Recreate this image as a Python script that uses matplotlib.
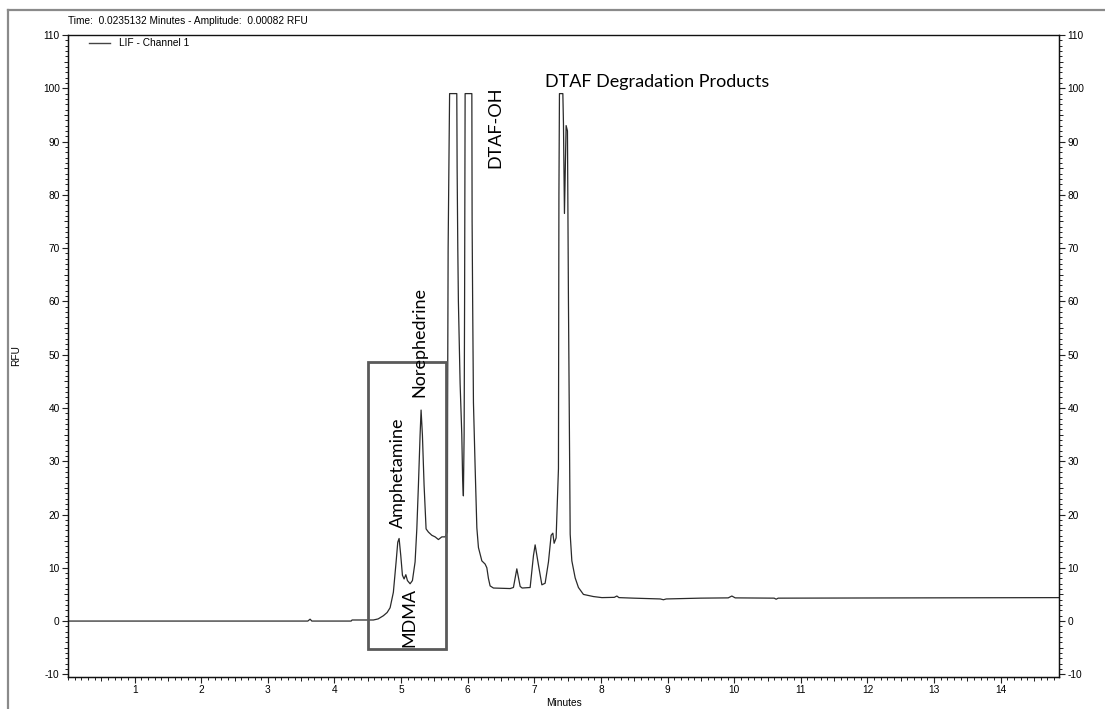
import matplotlib
matplotlib.use("Agg")
import matplotlib.pyplot as plt
from matplotlib.lines import Line2D
from matplotlib.patches import Rectangle
from matplotlib.ticker import MultipleLocator, FixedLocator, NullFormatter

plt.rcParams["axes.unicode_minus"] = False

# ---- trace data: LIF channel 1 (time in minutes, amplitude in RFU) ----
minutes = [0.00, 3.56, 3.60, 3.634, 3.66, 4.25, 4.264, 4.584, 4.655, 4.734,
           4.79, 4.835, 4.884, 4.925, 4.950, 4.970, 4.995, 5.020, 5.045, 5.071,
           5.095, 5.135, 5.170, 5.210, 5.236, 5.260, 5.285, 5.300, 5.320, 5.345,
           5.375, 5.410, 5.461, 5.511, 5.560, 5.611, 5.661, 5.695, 5.698, 5.706,
           5.721, 5.728, 5.836, 5.841, 5.851, 5.860, 5.886, 5.911, 5.923, 5.935,
           5.946, 5.953, 5.961, 6.062, 6.066, 6.074, 6.086, 6.111, 6.137, 6.161,
           6.212, 6.261, 6.287, 6.311, 6.336, 6.386, 6.637, 6.686, 6.737, 6.787,
           6.817, 6.937, 6.987, 7.012, 7.062, 7.113, 7.162, 7.212, 7.252, 7.278,
           7.297, 7.327, 7.362, 7.369, 7.377, 7.428, 7.437, 7.452, 7.477, 7.497,
           7.512, 7.538, 7.563, 7.613, 7.662, 7.737, 7.887, 8.014, 8.20, 8.239,
           8.27, 8.488, 8.89, 8.938, 8.98, 9.49, 9.91, 9.965, 10.015, 10.60,
           10.63, 10.66, 14.88]
rfu = [0.0, 0.0, 0.0, 0.35, 0.0, 0.0, 0.2, 0.2, 0.4, 1.0,
       1.6, 2.5, 5.4, 11.1, 14.8, 15.5, 12.3, 8.6, 7.9, 8.7,
       7.6, 7.0, 7.6, 11.1, 17.3, 25.5, 34.9, 39.6, 34.9, 25.5,
       17.3, 16.7, 16.1, 15.8, 15.3, 15.8, 15.8, 16.7, 40.0, 70.0,
       90.0, 99.0, 99.0, 85.0, 70.0, 60.0, 44.5, 35.0, 27.0, 23.5,
       35.0, 60.0, 99.0, 99.0, 75.0, 60.0, 41.0, 29.0, 17.5, 13.8,
       11.3, 10.7, 10.0, 8.0, 6.6, 6.2, 6.1, 6.3, 9.8, 6.5,
       6.2, 6.3, 12.3, 14.3, 10.5, 6.8, 7.1, 11.1, 16.1, 16.5,
       14.6, 15.6, 28.6, 80.0, 99.0, 99.0, 93.5, 76.5, 93.0, 92.0,
       60.0, 16.3, 11.3, 8.1, 6.3, 5.0, 4.6, 4.4, 4.45, 4.7,
       4.4, 4.3, 4.15, 4.0, 4.15, 4.3, 4.35, 4.7, 4.35, 4.3,
       4.1, 4.3, 4.4]

# ---- peak annotations ----
peak_names = ["Amphetamine", "Norephedrine", "MDMA", "DTAF-OH"]
peak_x = [4.947, 5.275, 5.12, 6.419]
peak_label_y = [17.4, 42.0, -4.9, 85.1]
degradation_label = "DTAF Degradation Products"

x_ticks = list(range(1, 15))
y_ticks = list(range(-10, 111, 10))

header_text = "Time:  0.0235132 Minutes - Amplitude:  0.00082 RFU"
legend_text = "LIF - Channel 1"

W, H = 1105, 709
fig = plt.figure(figsize=(W / 100, H / 100), dpi=100)
fig.patch.set_facecolor("white")

ax = fig.add_axes([68 / W, 32 / H, (1059.3 - 68) / W, (677 - 35) / H])
ax.plot(minutes, rfu, color="#2a2a2a", lw=0.9)
ax.set_xlim(0, 14.88)
ax.set_ylim(-10.5, 110)

small = 7.3
tick_font = dict(family="Liberation Sans", size=small)
ax.xaxis.set_major_locator(FixedLocator(x_ticks))
ax.xaxis.set_minor_locator(MultipleLocator(0.1))
ax.yaxis.set_major_locator(FixedLocator(y_ticks))
ax.yaxis.set_minor_locator(MultipleLocator(1))
ax.tick_params(axis="both", which="major", direction="out", length=4.5,
               width=0.8, color="#222222", labelsize=small, pad=1.5)
ax.tick_params(axis="both", which="minor", direction="out", length=2.2,
               width=0.7, color="#222222")
ax.tick_params(axis="y", which="both", left=True, right=True,
               labelleft=True, labelright=True)
ax.tick_params(axis="x", which="both", top=False)
for tk in ax.yaxis.get_major_ticks():
    tk.label1.set_fontfamily("Liberation Sans")
    tk.label2.set_fontfamily("Liberation Sans")
for tk in ax.xaxis.get_major_ticks():
    tk.label1.set_fontfamily("Liberation Sans")

# half-interval ticks, slightly longer than the minor ones
half_x = [i + 0.5 for i in range(0, 15) if i + 0.5 < 14.88]
half_y = [v + 5 for v in range(-10, 110, 10)]
sx = ax.secondary_xaxis("bottom")
sx.xaxis.set_major_locator(FixedLocator(half_x))
sx.xaxis.set_major_formatter(NullFormatter())
sx.tick_params(length=3.2, width=0.7, color="#222222")
for side in ("left", "right"):
    sy = ax.secondary_yaxis(side)
    sy.yaxis.set_major_locator(FixedLocator(half_y))
    sy.yaxis.set_major_formatter(NullFormatter())
    sy.tick_params(length=3.2, width=0.7, color="#222222")

for sp in ax.spines.values():
    sp.set_linewidth(1.0)
    sp.set_color("#111111")

ax.set_xlabel("Minutes", fontdict=tick_font)
ax.set_ylabel("RFU", fontdict=tick_font)
ax.yaxis.set_label_coords((21 - 68) / 991, 0.5)
ax.xaxis.set_label_coords(0.5, -(698 - 677) / 642)

# highlighted region around the analyte peaks
ax.add_patch(Rectangle((4.50, -5.3), 5.676 - 4.50, 48.6 + 5.3, fill=False,
                       edgecolor="#5a5a5a", lw=2.0, zorder=3))

ann_font = dict(family="Lato", size=13.0, color="black")
for name, x, y in zip(peak_names, peak_x, peak_label_y):
    ax.text(x, y, name, rotation=90, ha="center", va="bottom", **ann_font)
ax.text(7.162, 101.2, degradation_label, ha="left", va="center", **ann_font)

# instrument header and legend
fig.text(68 / W, 1 - 20.5 / H, header_text, ha="left", va="center",
         **tick_font)
fig.add_artist(Line2D([89 / W, 110 / W], [1 - 43 / H, 1 - 43 / H],
                      color="#444444", lw=1.0))
fig.text(119 / W, 1 - 43 / H, legend_text, ha="left", va="center",
         **tick_font)

# window frame
fig.add_artist(Line2D([8 / W, 1.0], [1 - 10 / H, 1 - 10 / H],
                      color="#8a8a8a", lw=1.6))
fig.add_artist(Line2D([8 / W, 8 / W], [0, 1 - 10 / H],
                      color="#8a8a8a", lw=1.6))

fig.savefig("out.png", dpi=100, facecolor="white")
